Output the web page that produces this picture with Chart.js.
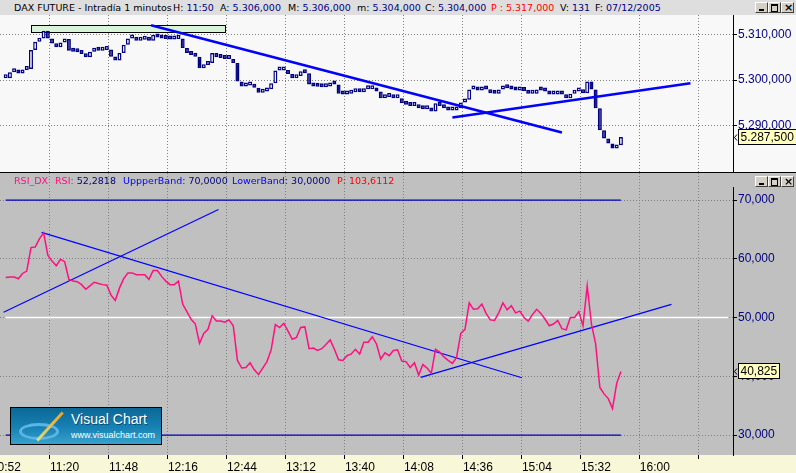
<!DOCTYPE html>
<html>
<head>
<meta charset="utf-8">
<title>DAX FUTURE - Intradía 1 minutos</title>
<script src="https://cdn.jsdelivr.net/npm/chart.js@4.4.0/dist/chart.umd.min.js"></script>
<style>
  body { margin: 0; width: 796px; height: 473px; overflow: hidden; position: relative; background: #c0c0c0; }
  .hd { font-family: "DejaVu Sans", sans-serif; font-size: 9.5px; line-height: 12px; white-space: pre; position: absolute; }
  #hdr { position: absolute; left: 0; top: 0; width: 796px; height: 15px; background: #dedede; }
  .k { color: #000; } .v { color: #000080; } .r { color: #ff0000; } .p { color: #ff1080; } .b { color: #0000ff; }
  #priceCanvas { position: absolute; left: 0; top: 15px; }
  #sep { position: absolute; left: 0; top: 172px; width: 796px; height: 1px; background: #000; }
  #rsiCanvas { position: absolute; left: 0; top: 173px; }
  #axisCover { position: absolute; left: 732px; top: 173px; width: 64px; height: 14px; background: #c0c0c0; }
  .btns { position: absolute; left: 755px; height: 11px; }
  .btn { position: absolute; top: 0; width: 11px; height: 9px; background: #d4d0c8; border: 1px solid; border-color: #fff #404040 #404040 #fff; }
  .btn i { position: absolute; display: block; }
  #logo { position: absolute; left: 10px; top: 407px; width: 150px; height: 36px; border: 1px solid #000;
          background: linear-gradient(to bottom, #0b6896 0%, #1782b4 55%, #36a2cc 100%); overflow: hidden;
          font-family: "Liberation Sans", Arial, sans-serif; color: #fff; }
  #logo .ring { position: absolute; left: 8px; top: 15px; width: 40px; height: 17px; border-radius: 50%;
                border: 3px solid #5cb4e4; box-sizing: border-box; }
  #logo .swoosh { position: absolute; left: 20px; top: 17px; width: 38px; height: 3px;
                  background: linear-gradient(to right, #d8e080, #f0a020); transform: rotate(-48deg); }
  #logo .l1 { position: absolute; left: 60px; top: 3px; font-size: 14px; text-shadow: 1px 1px 0 #0a4a70; }
  #logo .l2 { position: absolute; left: 60px; top: 22px; font-size: 9px; }
</style>
</head>
<body>
<div id="hdr">
  <span class="hd k" style="left:14px;top:2px">DAX FUTURE - Intradía 1 minutos</span>
  <span class="hd" style="left:173px;top:2px"><span class="k">H:</span> <span class="v">11:50</span></span>
  <span class="hd" style="left:220px;top:2px"><span class="k">A:</span> <span class="v">5.306,000</span></span>
  <span class="hd" style="left:288px;top:2px"><span class="k">M:</span> <span class="v">5.306,000</span></span>
  <span class="hd" style="left:357px;top:2px"><span class="k">m:</span> <span class="v">5.304,000</span></span>
  <span class="hd" style="left:425px;top:2px"><span class="k">C:</span> <span class="v">5.304,000</span></span>
  <span class="hd r" style="left:491px;top:2px">P : 5.317,000</span>
  <span class="hd" style="left:560px;top:2px"><span class="k">V:</span> <span class="v">131</span></span>
  <span class="hd" style="left:595px;top:2px"><span class="k">F:</span> <span class="v">07/12/2005</span></span>
  <div class="btns" style="top:2px">
    <div class="btn" style="left:0"><i style="left:3px;top:6px;width:5px;height:2px;background:#000"></i></div>
    <div class="btn" style="left:13px"><i style="left:2px;top:1px;width:5px;height:5px;border:1px solid #000;border-top-width:2px"></i></div>
    <div class="btn" style="left:26px"><i style="left:2px;top:-2px;font:bold 11px 'DejaVu Sans',sans-serif;color:#000">×</i></div>
  </div>
</div>

<canvas id="priceCanvas" width="796" height="157"></canvas>
<div id="sep"></div>
<canvas id="rsiCanvas" width="796" height="300"></canvas>
<div id="axisCover"></div>

<span class="hd" style="left:14px;top:175px"><span class="p">RSI_DX</span></span>
<span class="hd" style="left:55px;top:175px"><span class="p">RSI:</span> <span class="v">52,2818</span></span>
<span class="hd" style="left:123px;top:175px"><span class="b">UppperBand:</span> <span class="v">70,0000</span></span>
<span class="hd" style="left:232px;top:175px"><span class="b">LowerBand:</span> <span class="v">30,0000</span></span>
<span class="hd r" style="left:337px;top:175px">P: 103,6112</span>
<div class="btns" style="top:176px">
  <div class="btn" style="left:0"><i style="left:3px;top:6px;width:5px;height:2px;background:#000"></i></div>
  <div class="btn" style="left:13px"><i style="left:2px;top:1px;width:5px;height:5px;border:1px solid #000;border-top-width:2px"></i></div>
  <div class="btn" style="left:26px"><i style="left:2px;top:-2px;font:bold 11px 'DejaVu Sans',sans-serif;color:#000">×</i></div>
</div>

<div id="logo">
  <div class="ring"></div><div class="swoosh"></div>
  <div class="l1">Visual Chart</div>
  <div class="l2">www.visualchart.com</div>
</div>

<script>
// 2-minute samples, first one at 10:59
const startTime = '10:59';
const stepMinutes = 2;

const closes = [
    5300.4, 5301.7, 5301.9, 5301.4, 5302.2, 5302.4, 5306.6, 5308.4, 5309.1, 5310.8,
    5309.1, 5308.0, 5307.2, 5308.2, 5309.0, 5306.4, 5306.2, 5306.1, 5305.7, 5305.0,
    5306.2, 5306.7, 5306.4, 5306.6, 5306.7, 5305.1, 5304.3, 5305.9, 5307.7, 5309.1,
    5309.1, 5308.6, 5308.8, 5308.9, 5308.6, 5309.9, 5309.3, 5309.1, 5309.0, 5308.9,
    5309.0, 5309.1, 5307.0, 5305.9, 5305.5, 5305.1, 5302.6, 5303.3, 5303.7, 5305.9,
    5305.0, 5304.8, 5304.6, 5304.6, 5303.7, 5299.7, 5298.6, 5298.8, 5298.8, 5298.3,
    5297.2, 5297.5, 5298.0, 5299.3, 5302.1, 5302.1, 5302.2, 5301.3, 5300.4, 5300.9,
    5301.9, 5301.5, 5299.0, 5298.6, 5298.5, 5298.4, 5298.6, 5299.3, 5299.0, 5297.0,
    5296.8, 5297.0, 5297.3, 5297.5, 5297.3, 5298.0, 5298.0, 5298.1, 5297.5, 5296.0,
    5296.3, 5296.3, 5296.0, 5296.0, 5294.9, 5294.6, 5294.3, 5294.3, 5293.8, 5293.6,
    5293.6, 5293.1, 5294.9, 5294.3, 5293.8, 5293.3, 5293.3, 5293.8, 5295.1, 5295.7,
    5297.9, 5298.2, 5297.7, 5298.4, 5297.9, 5297.1, 5297.0, 5297.9, 5298.6, 5298.2,
    5297.9, 5297.7, 5297.7, 5297.6, 5297.0, 5297.0, 5297.9, 5297.7, 5297.5, 5296.8,
    5296.8, 5297.1, 5296.8, 5296.0, 5297.0, 5297.5, 5297.6, 5297.1, 5299.7, 5297.9,
    5293.8, 5289.0, 5287.2, 5286.1, 5285.0, 5285.7, 5287.5
];

const rsiValues = [
    56.8, 56.9, 56.9, 56.6, 57.5, 57.9, 61.9, 62.0, 63.4, 64.4,
    60.6, 59.6, 58.8, 59.9, 59.5, 56.5, 56.2, 56.1, 55.6, 54.8,
    55.4, 56.0, 55.8, 55.6, 55.5, 53.8, 52.9, 55.0, 56.6, 57.6,
    57.6, 57.3, 57.3, 57.3, 56.5, 58.0, 58.0, 57.0, 56.2, 55.6,
    55.6, 56.2, 52.3, 51.0, 49.7, 48.9, 45.6, 47.3, 48.0, 50.3,
    49.4, 49.4, 49.2, 49.6, 48.6, 42.7, 41.4, 41.5, 42.3, 41.1,
    40.3, 41.4, 42.5, 44.5, 48.8, 48.3, 49.0, 47.7, 46.3, 46.6,
    48.3, 48.4, 44.7, 44.8, 44.4, 44.7, 45.4, 46.2, 44.6, 42.8,
    42.7, 43.5, 43.8, 44.6, 43.8, 45.8, 45.8, 46.7, 45.5, 42.9,
    44.0, 43.5, 44.4, 44.5, 42.6, 42.5, 41.5, 42.3, 40.2, 42.0,
    41.4, 40.5, 44.6, 44.1, 43.3, 42.7, 42.2, 43.2, 47.3, 48.0,
    52.5, 51.4, 51.5, 52.3, 50.7, 49.6, 49.5, 50.8, 52.5, 51.3,
    52.0, 50.8, 51.1, 50.0, 49.4, 50.5, 51.4, 50.7, 49.7, 48.6,
    48.9, 49.5, 48.1, 47.9, 50.0, 50.0, 51.0, 48.6, 55.4, 48.9,
    45.5, 38.1, 37.0, 36.2, 34.5, 38.8, 40.825
];

const timeTicks = ['10:52', '11:20', '11:48', '12:16', '12:44', '13:12', '13:40', '14:08', '14:36', '15:04', '15:32', '16:00', '16:28'];
const priceTicks = [5290, 5300, 5310];
const rsiTicks = [30, 40, 50, 60, 70];

// drawn objects on the price panel
const priceLineA = [['12:08', 5312.0], ['15:23', 5288.5]];
const priceLineB = [['14:31', 5291.8], ['16:24', 5299.3]];
const zoneTimes = ['11:11', '12:43'];
const zoneLevels = [5310.5, 5312.1];

// drawn objects on the RSI panel
const rsiLineA = [['10:58', 50.9], ['12:40', 68.4]];
const rsiLineB = [['11:16', 64.5], ['15:04', 39.75]];
const rsiLineC = [['14:16', 39.8], ['16:15', 52.25]];
const upperBand = [['10:59', 70], ['15:51', 70]];
const lowerBand = [['10:59', 30], ['15:51', 30]];
const midLine = [['10:59', 50], ['16:42', 50]];

// visible window (minutes since midnight) and value ranges
const viewMinutes = [656.3, 1004.2];
const priceRange = [5279.85, 5314.24];
const rsiRange = [26.6, 74.6];

const FONT = '"Liberation Sans", Arial, sans-serif';
let priceChart;
let rsiChart;

function toMin(s) {
    const p = s.split(':');
    return parseInt(p[0]) * 60 + parseInt(p[1]);
}

function toClock(m) {
    const h = Math.floor(m / 60);
    const mm = Math.round(m % 60);
    return h + ':' + (mm < 10 ? '0' : '') + mm;
}

// spanish number format: 5.287,500
function fmtEs(v, dec) {
    const parts = v.toFixed(dec).split('.');
    const intPart = parts[0].replace(/\B(?=(\d{3})+(?!\d))/g, '.');
    return parts[1] ? intPart + ',' + parts[1] : intPart;
}

function toPoints(pairs) {
    return pairs.map(p => ({ x: toMin(p[0]), y: p[1] }));
}

const times = closes.map((c, i) => toMin(startTime) + i * stepMinutes);

const paintBg = {
    id: 'paintBg',
    beforeDraw(chart, args, opts) {
        const ctx = chart.ctx;
        ctx.save();
        ctx.fillStyle = opts.color;
        ctx.fillRect(0, 0, chart.width, chart.height);
        if (opts.axisColor) {
            ctx.fillStyle = opts.axisColor;
            ctx.fillRect(0, chart.chartArea.bottom, chart.width, chart.height - chart.chartArea.bottom);
        }
        ctx.restore();
    }
};

const zoneBox = {
    id: 'zoneBox',
    beforeDatasetsDraw(chart) {
        const xs = chart.scales.x, ys = chart.scales.y;
        const x1 = Math.round(xs.getPixelForValue(toMin(zoneTimes[0]))) + 0.5;
        const x2 = Math.round(xs.getPixelForValue(toMin(zoneTimes[1]))) + 0.5;
        const y1 = Math.round(ys.getPixelForValue(zoneLevels[1])) + 0.5;
        const y2 = Math.round(ys.getPixelForValue(zoneLevels[0])) + 0.5;
        const ctx = chart.ctx;
        ctx.save();
        ctx.fillStyle = '#d8f4d8';
        ctx.strokeStyle = '#000';
        ctx.lineWidth = 1;
        ctx.fillRect(x1, y1, x2 - x1, y2 - y1);
        ctx.strokeRect(x1, y1, x2 - x1, y2 - y1);
        ctx.restore();
    }
};

// yellow tag with the last value on the right axis
const lastValueTag = {
    id: 'lastValueTag',
    afterDraw(chart, args, opts) {
        const ds = chart.data.datasets[opts.dataset];
        const last = ds.data[ds.data.length - 1];
        const v = Array.isArray(last.y) ? last.y[1] : last.y;
        const y = Math.round(chart.scales.y.getPixelForValue(v));
        const x = chart.chartArea.right;
        const ctx = chart.ctx;
        const text = fmtEs(v, 3);
        ctx.save();
        ctx.font = '12px ' + FONT;
        const w = Math.ceil(ctx.measureText(text).width) + 4;
        ctx.fillStyle = '#ffffc0';
        ctx.strokeStyle = '#000';
        ctx.lineWidth = 1;
        ctx.fillRect(x + 5.5, y - 7.5, w, 15);
        ctx.strokeRect(x + 5.5, y - 7.5, w, 15);
        ctx.beginPath();
        ctx.moveTo(x + 4, y - 2.5);
        ctx.lineTo(x + 1.5, y + 0.5);
        ctx.lineTo(x + 4, y + 3.5);
        ctx.stroke();
        ctx.fillStyle = '#000';
        ctx.textBaseline = 'middle';
        ctx.fillText(text, x + 7.5, y + 1);
        ctx.restore();
    }
};

function timeAxis(showLabels) {
    return {
        type: 'linear',
        min: viewMinutes[0],
        max: viewMinutes[1],
        offset: false,
        afterBuildTicks: scale => { scale.ticks = timeTicks.map(t => ({ value: toMin(t) })); },
        afterFit: scale => {
            scale.height = showLabels ? 18 : 0;
            scale.paddingLeft = 0;
            scale.paddingRight = 0;
        },
        grid: {
            color: '#808080', lineWidth: 1, offset: false,
            drawTicks: showLabels, tickLength: 4, tickColor: '#000', tickBorderDash: []
        },
        border: { display: false, dash: [1, 2] },
        ticks: {
            display: showLabels,
            autoSkip: false, maxRotation: 0, minRotation: 0,
            align: 'start', padding: 1,
            color: '#000', font: { family: FONT, size: 12 },
            callback: (value, index, ticks) => index === ticks.length - 1 ? '' : toClock(value)
        }
    };
}

function valueAxis(range, tickValues, decimals) {
    return {
        type: 'linear',
        position: 'right',
        min: range[0],
        max: range[1],
        afterBuildTicks: scale => { scale.ticks = tickValues.map(v => ({ value: v })); },
        afterFit: scale => {
            scale.width = 63;
            scale.paddingTop = 0;
            scale.paddingBottom = 0;
        },
        grid: { color: '#808080', lineWidth: 1, tickLength: 4, tickColor: '#000', tickBorderDash: [] },
        border: { display: true, color: '#000', width: 1, dash: [1, 2] },
        ticks: {
            padding: 1,
            color: '#000080',
            font: { family: FONT, size: 12 },
            callback: v => fmtEs(v, decimals)
        }
    };
}

function lineSet(pairs, color, width) {
    return {
        type: 'line',
        data: toPoints(pairs),
        borderColor: color,
        borderWidth: width,
        pointRadius: 0,
        fill: false,
        tension: 0
    };
}

function drawPriceChart() {
    const bars = times.map((t, i) => ({ x: t, y: [i > 0 ? closes[i - 1] : closes[0], closes[i]] }));
    const ctx = document.getElementById('priceCanvas').getContext('2d');
    priceChart = new Chart(ctx, {
        type: 'bar',
        data: {
            datasets: [
                lineSet(priceLineA, '#0000ff', 2.5),
                lineSet(priceLineB, '#0000ff', 2.5),
                {
                    label: 'DAX FUTURE',
                    data: bars,
                    // down bars filled, up bars hollow
                    backgroundColor: c => (c.raw && c.raw.y[1] < c.raw.y[0]) ? '#000080' : '#f8f8f8',
                    borderColor: '#000080',
                    borderWidth: 1.5,
                    borderSkipped: false,
                    barPercentage: 0.95,
                    categoryPercentage: 1,
                    minBarLength: 4
                }
            ]
        },
        options: {
            responsive: false,
            animation: false,
            layout: { padding: 0 },
            scales: {
                x: timeAxis(false),
                y: valueAxis(priceRange, priceTicks, 3)
            },
            plugins: {
                legend: { display: false },
                tooltip: { enabled: false },
                paintBg: { color: '#f8f8f8' },
                lastValueTag: { dataset: 2 }
            }
        },
        plugins: [paintBg, zoneBox, lastValueTag]
    });
}

function drawRsiChart() {
    const rsi = times.map((t, i) => ({ x: t, y: rsiValues[i] }));
    const ctx = document.getElementById('rsiCanvas').getContext('2d');
    rsiChart = new Chart(ctx, {
        type: 'line',
        data: {
            datasets: [
                {
                    label: 'RSI',
                    data: rsi,
                    borderColor: '#ff1080',
                    borderWidth: 1.5,
                    pointRadius: 0,
                    fill: false,
                    tension: 0
                },
                lineSet(rsiLineA, '#0000ff', 1.2),
                lineSet(rsiLineB, '#0000ff', 1.2),
                lineSet(rsiLineC, '#0000ff', 1.2),
                lineSet(upperBand, '#0000c0', 1.3),
                lineSet(lowerBand, '#0000c0', 1.3),
                lineSet(midLine, '#ffffff', 1.5)
            ]
        },
        options: {
            responsive: false,
            animation: false,
            layout: { padding: 0 },
            scales: {
                x: timeAxis(true),
                y: valueAxis(rsiRange, rsiTicks, 3)
            },
            plugins: {
                legend: { display: false },
                tooltip: { enabled: false },
                paintBg: { color: '#c0c0c0', axisColor: '#f8f8d8' },
                lastValueTag: { dataset: 0 }
            }
        },
        plugins: [paintBg, lastValueTag]
    });
}

drawPriceChart();
drawRsiChart();
</script>
</body>
</html>
